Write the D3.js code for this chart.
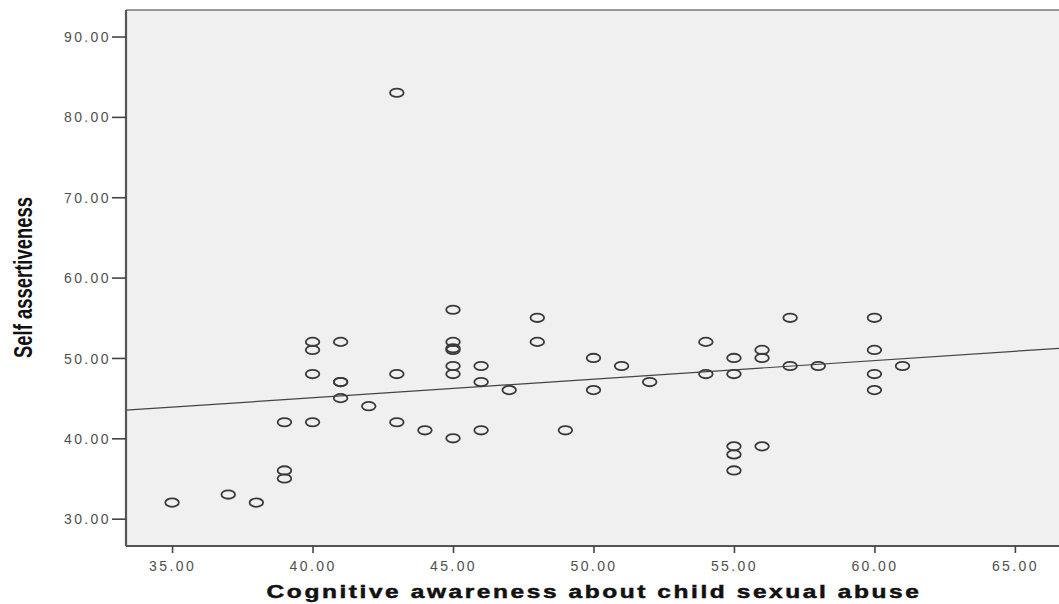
<!DOCTYPE html>
<html><head><meta charset="utf-8">
<script src="https://cdn.jsdelivr.net/npm/d3@7"></script>
<style>
html,body{margin:0;padding:0;background:#fff;}
svg{display:block;}
</style></head>
<body>
<svg id="chart" width="1059" height="604"></svg>
<script>
const awareness = [35,37,38,39,39,39,40,40,40,40,41,41,41,41,42,43,43,43,44,45,45,45,45,45,45,45,46,46,46,47,48,48,49,50,50,51,52,54,54,55,55,55,55,55,56,56,56,57,57,58,60,60,60,60,61];
const assertiveness = [32,33,32,36,35,42,52,51,48,42,52,47,47,45,44,83,48,42,41,56,52,51.2,51,49,48,40,49,47,41,46,55,52,41,50,46,49,47,52,48,50,48,39,38,36,51,50,39,55,49,49,55,51,48,46,49];
const xTicks = [35,40,45,50,55,60,65];
const yTicks = [30,40,50,60,70,80,90];
const fitLine = [[33.36,43.5],[66.57,51.2]];
const xTitle = "Cognitive awareness about child sexual abuse";
const yTitle = "Self assertiveness";

const svg = d3.select("#chart");
const L = 126, R = 1059, T = 10, B = 546;
const x = d3.scaleLinear().domain([33.36, 66.57]).range([L, R]);
const y = d3.scaleLinear().domain([26.6, 93.3]).range([B, T]);

svg.append("rect").attr("x", L).attr("y", T).attr("width", R - L + 5).attr("height", B - T)
  .attr("fill", "#f0f0f0");
svg.append("line").attr("x1", L).attr("x2", R).attr("y1", T).attr("y2", T)
  .attr("stroke", "#777").attr("stroke-width", 1.5);

// fit line
svg.append("line")
  .attr("x1", x(fitLine[0][0])).attr("y1", y(fitLine[0][1]))
  .attr("x2", x(fitLine[1][0])).attr("y2", y(fitLine[1][1]))
  .attr("stroke", "#444").attr("stroke-width", 1.2);

// points
svg.append("g").selectAll("ellipse").data(awareness.map((d, i) => [d, assertiveness[i]]))
  .join("ellipse")
  .attr("cx", d => x(d[0])).attr("cy", d => y(d[1]))
  .attr("rx", 6.8).attr("ry", 4.2)
  .attr("fill", "none").attr("stroke", "#3a3a3a").attr("stroke-width", 1.8);

// axes
const xAxis = d3.axisBottom(x).tickValues(xTicks).tickFormat(d3.format(".2f")).tickSize(7).tickSizeOuter(0);
const yAxis = d3.axisLeft(y).tickValues(yTicks).tickFormat(d3.format(".2f")).tickSize(14).tickSizeOuter(0);

const gx = svg.append("g").attr("transform", `translate(0,${B})`).call(xAxis);
const gy = svg.append("g").attr("transform", `translate(${L},0)`).call(yAxis);
[gx, gy].forEach(g => {
  g.select(".domain").attr("stroke", "#555").attr("stroke-width", 2.2);
  g.selectAll(".tick line").attr("stroke", "#444").attr("stroke-width", 1.6);
  g.selectAll(".tick text").attr("fill", "#505050")
    .style("font-family", "'Liberation Sans', Arial, sans-serif")
    .style("font-size", "14px").style("letter-spacing", "2.4px");
});
gx.select(".domain").attr("d", `M${L},0H${R}`);
gy.select(".domain").attr("d", `M0,${B}V${T}`);
gx.selectAll(".tick text").attr("dy", "0").attr("y", 25);
gy.selectAll(".tick text").attr("x", -15).attr("dy", "0.36em");

// x title, stretched to the reference width
const xt = svg.append("text").attr("text-anchor", "middle")
  .attr("fill", "#111").attr("stroke", "#111").attr("stroke-width", 0.5)
  .style("font-family", "'Liberation Sans', Arial, sans-serif")
  .style("font-weight", "bold").style("font-size", "19px").style("letter-spacing", "2px")
  .text(xTitle);
const xw = xt.node().getComputedTextLength();
xt.attr("transform", `translate(594,598) scale(${655 / xw},1)`);

// y title, condensed
const yt = svg.append("text").attr("text-anchor", "middle")
  .attr("fill", "#111")
  .style("font-family", "'Liberation Sans', Arial, sans-serif")
  .style("font-weight", "bold").style("font-size", "25px")
  .text(yTitle);
const yw = yt.node().getComputedTextLength();
yt.attr("transform", `translate(32,277.5) rotate(-90) scale(${161 / yw},1)`);
</script>
</body></html>
